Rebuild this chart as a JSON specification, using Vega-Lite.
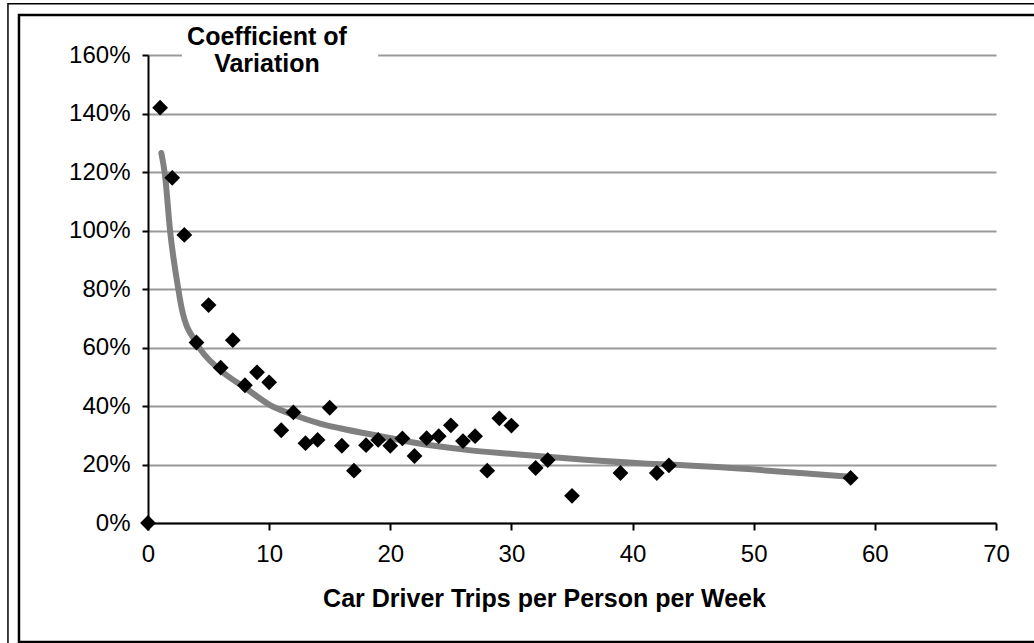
{
  "$schema": "https://vega.github.io/schema/vega-lite/v6.json",
  "width": 848,
  "height": 468,
  "autosize": {"type": "none"},
  "padding": {"left": 148, "top": 55, "right": 38, "bottom": 120},
  "background": "white",
  "config": {"view": {"stroke": null}, "font": "Liberation Sans"},
  "datasets": {
    "points": [
      {"trips": 0, "cv": 0},
      {"trips": 1, "cv": 1.42},
      {"trips": 2, "cv": 1.18},
      {"trips": 3, "cv": 0.985},
      {"trips": 4, "cv": 0.617},
      {"trips": 5, "cv": 0.745},
      {"trips": 6, "cv": 0.531},
      {"trips": 7, "cv": 0.625},
      {"trips": 8, "cv": 0.471},
      {"trips": 9, "cv": 0.515},
      {"trips": 10, "cv": 0.481},
      {"trips": 11, "cv": 0.317},
      {"trips": 12, "cv": 0.378},
      {"trips": 13, "cv": 0.273},
      {"trips": 14, "cv": 0.284},
      {"trips": 15, "cv": 0.394},
      {"trips": 16, "cv": 0.264},
      {"trips": 17, "cv": 0.179},
      {"trips": 18, "cv": 0.266},
      {"trips": 19, "cv": 0.284},
      {"trips": 20, "cv": 0.264},
      {"trips": 21, "cv": 0.289},
      {"trips": 22, "cv": 0.229},
      {"trips": 23, "cv": 0.29},
      {"trips": 24, "cv": 0.297},
      {"trips": 25, "cv": 0.334},
      {"trips": 26, "cv": 0.28},
      {"trips": 27, "cv": 0.297},
      {"trips": 28, "cv": 0.179},
      {"trips": 29, "cv": 0.358},
      {"trips": 30, "cv": 0.333},
      {"trips": 32, "cv": 0.188},
      {"trips": 33, "cv": 0.215},
      {"trips": 35, "cv": 0.093},
      {"trips": 39, "cv": 0.171},
      {"trips": 42, "cv": 0.171},
      {"trips": 43, "cv": 0.197},
      {"trips": 58, "cv": 0.154}
    ],
    "trend": [
      {"trips": 1.1, "cv": 1.265},
      {"trips": 1.4, "cv": 1.19},
      {"trips": 1.82, "cv": 1.0},
      {"trips": 2.5, "cv": 0.8},
      {"trips": 2.8, "cv": 0.73},
      {"trips": 4.0, "cv": 0.615},
      {"trips": 5.9, "cv": 0.525},
      {"trips": 8.1, "cv": 0.46},
      {"trips": 10, "cv": 0.405},
      {"trips": 12, "cv": 0.37},
      {"trips": 14.2, "cv": 0.34},
      {"trips": 15.85, "cv": 0.324},
      {"trips": 19.4, "cv": 0.295},
      {"trips": 21.9, "cv": 0.275},
      {"trips": 26.3, "cv": 0.25},
      {"trips": 30.1, "cv": 0.236},
      {"trips": 35.8, "cv": 0.217},
      {"trips": 41.2, "cv": 0.203},
      {"trips": 43.9, "cv": 0.198},
      {"trips": 58, "cv": 0.158}
    ],
    "one": [{"k": 1}]
  },
  "layer": [
    {
      "data": {"name": "one"},
      "mark": {"type": "rect", "filled": false, "stroke": "black", "strokeWidth": 1.5, "fill": null},
      "encoding": {
        "x": {
          "datum": -11.56,
          "type": "quantitative",
          "scale": {"domain": [0, 70], "nice": false},
          "axis": {
            "values": [0, 10, 20, 30, 40, 50, 60, 70],
            "grid": false,
            "domainColor": "black",
            "domainWidth": 2,
            "tickColor": "black",
            "tickWidth": 2,
            "tickSize": 7,
            "labelFontSize": 24,
            "labelColor": "black",
            "labelPadding": 12,
            "labelFlush": false,
            "labelOverlap": false,
            "title": "Car Driver Trips per Person per Week",
            "titleFontSize": 25,
            "titleFontWeight": "bold",
            "titleColor": "black",
            "titleX": 396,
            "titleY": 83,
            "titleBaseline": "alphabetic"
          }
        },
        "x2": {"datum": 75},
        "y": {
          "datum": 1.775,
          "type": "quantitative",
          "scale": {"domain": [0, 1.6], "nice": false},
          "axis": {
            "values": [0, 0.2, 0.4, 0.6, 0.8, 1, 1.2, 1.4, 1.6],
            "format": ".0%",
            "grid": true,
            "gridColor": "#999999",
            "gridWidth": 2,
            "domainColor": "black",
            "domainWidth": 2,
            "tickColor": "black",
            "tickWidth": 2,
            "tickSize": 6,
            "labelFontSize": 24,
            "labelColor": "black",
            "labelPadding": 12,
            "labelFlush": false,
            "labelOverlap": false,
            "title": null
          }
        },
        "y2": {"datum": -0.5}
      }
    },
    {
      "data": {"name": "one"},
      "mark": {"type": "rect", "filled": false, "stroke": "black", "strokeWidth": 2.5, "fill": null},
      "encoding": {
        "x": {"datum": -10.65, "type": "quantitative"},
        "x2": {"datum": 75},
        "y": {"datum": 1.737, "type": "quantitative"},
        "y2": {"datum": -0.407}
      }
    },
    {
      "data": {"name": "one"},
      "mark": {"type": "rect", "fill": "white", "strokeWidth": 0},
      "encoding": {
        "x": {"datum": 2.8, "type": "quantitative"},
        "x2": {"datum": 19},
        "y": {"datum": 1.48, "type": "quantitative"},
        "y2": {"datum": 1.72}
      }
    },
    {
      "data": {"name": "trend"},
      "mark": {"type": "line", "color": "#808080", "strokeWidth": 6, "strokeCap": "round", "strokeJoin": "round", "interpolate": "monotone"},
      "encoding": {
        "x": {"field": "trips", "type": "quantitative"},
        "y": {"field": "cv", "type": "quantitative"}
      }
    },
    {
      "data": {"name": "points"},
      "mark": {"type": "point", "shape": "diamond", "filled": true, "color": "black", "opacity": 1, "size": 250},
      "encoding": {
        "x": {"field": "trips", "type": "quantitative"},
        "y": {"field": "cv", "type": "quantitative"}
      }
    },
    {
      "data": {"name": "one"},
      "mark": {"type": "text", "text": ["Coefficient of", "Variation"], "align": "center", "baseline": "alphabetic", "lineHeight": 27, "fontSize": 25, "fontWeight": "bold", "color": "black", "font": "Liberation Sans"},
      "encoding": {
        "x": {"datum": 9.82, "type": "quantitative"},
        "y": {"datum": 1.634, "type": "quantitative"}
      }
    }
  ]
}
